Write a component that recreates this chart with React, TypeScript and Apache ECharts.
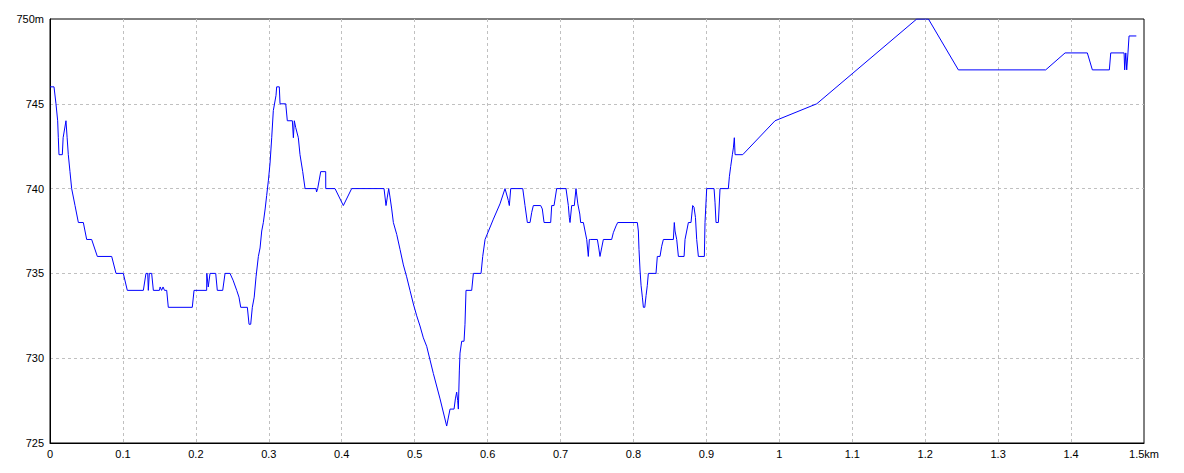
import React, { useEffect, useRef } from "react";
import * as echarts from "echarts";

// distance along route (km)
const distances: number[] = [
  0.0, 0.0055, 0.0082, 0.0105, 0.0114, 0.0123, 0.0169, 0.018, 0.0219, 0.0235,
  0.0251, 0.0274, 0.0297, 0.0343, 0.0389, 0.0457, 0.0503, 0.0571, 0.0649, 0.0846,
  0.0905, 0.1005, 0.106, 0.128, 0.1316, 0.134, 0.1348, 0.1362, 0.1394, 0.1417,
  0.15, 0.151, 0.153, 0.155, 0.157, 0.16, 0.1622, 0.1951, 0.1975, 0.2148,
  0.215, 0.217, 0.2194, 0.2272, 0.2294, 0.2368, 0.24, 0.2468, 0.251, 0.256,
  0.2591, 0.2615, 0.2706, 0.2729, 0.2752, 0.2774, 0.28, 0.2825, 0.2857, 0.288,
  0.2903, 0.2925, 0.295, 0.2971, 0.2995, 0.3017, 0.304, 0.3062, 0.3099, 0.3108,
  0.3144, 0.3154, 0.3232, 0.3254, 0.3323, 0.3337, 0.335, 0.3369, 0.3405, 0.3428,
  0.3465, 0.3497, 0.3647, 0.3655, 0.367, 0.3712, 0.378, 0.3781, 0.3908, 0.4022,
  0.4136, 0.458, 0.4607, 0.4625, 0.4644, 0.4662, 0.4685, 0.4708, 0.4754, 0.48,
  0.4845, 0.489, 0.4936, 0.4982, 0.5028, 0.5073, 0.5119, 0.5165, 0.5256, 0.5348,
  0.5439, 0.5485, 0.554, 0.5558, 0.5576, 0.559, 0.5599, 0.5613, 0.5622, 0.5645,
  0.5677, 0.569, 0.5704, 0.5782, 0.5805, 0.591, 0.5933, 0.5965, 0.6079, 0.617,
  0.6239, 0.6284, 0.6298, 0.6317, 0.6482, 0.6513, 0.6545, 0.6582, 0.6605, 0.6627,
  0.6705, 0.6728, 0.675, 0.6774, 0.6865, 0.6879, 0.6911, 0.6947, 0.7075, 0.7107,
  0.712, 0.713, 0.7153, 0.7189, 0.7212, 0.7237, 0.7264, 0.7276, 0.7313, 0.7336,
  0.7359, 0.7381, 0.7395, 0.7414, 0.7505, 0.7524, 0.7541, 0.7564, 0.7587, 0.7701,
  0.7724, 0.7761, 0.7784, 0.8053, 0.8067, 0.8076, 0.809, 0.8104, 0.8122, 0.8136,
  0.8155, 0.8173, 0.819, 0.8204, 0.8309, 0.8327, 0.8364, 0.8387, 0.841, 0.8547,
  0.856, 0.857, 0.8593, 0.8616, 0.8694, 0.8707, 0.873, 0.8753, 0.8789, 0.8812,
  0.883, 0.885, 0.8867, 0.889, 0.8972, 0.8981, 0.9004, 0.9105, 0.9118, 0.9132,
  0.9164, 0.9187, 0.9301, 0.9315, 0.9333, 0.9356, 0.937, 0.9383, 0.9393, 0.9498,
  0.9941, 1.0513, 1.1884, 1.2044, 1.2455, 1.3652, 1.3918, 1.4223, 1.4292, 1.4525,
  1.4544, 1.4727, 1.4735, 1.475, 1.4763, 1.478, 1.4795, 1.4895,
];

// elevation (m)
const elevations: number[] = [
  746, 746, 745, 744, 743, 742, 742, 743, 744, 743,
  742, 741, 740, 739, 738, 738, 737, 737, 736, 736,
  735, 735, 734, 734, 735, 735, 734, 735, 735, 734,
  734, 734.2, 734, 734.2, 734, 734, 733, 733, 734, 734,
  735, 734.2, 735, 735, 734, 734, 735, 735, 734.6, 734,
  733.6, 733, 733, 732, 732, 733, 733.6, 734.8, 736, 736.5,
  737.5, 738, 738.8, 739.6, 740.5, 741.5, 743, 744.6, 745.5, 746,
  746, 745, 745, 744, 744, 743, 744, 743.6, 743, 742,
  741, 740, 740, 739.8, 740, 741, 741, 740, 740, 739,
  740, 740, 739, 739.5, 740, 739.5, 738.8, 738, 737.3, 736.4,
  735.5, 734.8, 734, 733.2, 732.5, 731.9, 731.2, 730.7, 729.1, 727.6,
  726, 727, 727, 727.6, 728, 727.5, 727, 729.3, 730.3, 731,
  731, 732, 734, 734, 735, 735, 736, 737, 738.2, 739.1,
  740, 739.3, 739, 740, 740, 739, 738, 738, 738.6, 739,
  739, 739, 738.8, 738, 738, 739, 739, 740, 740, 739,
  738.3, 738, 739, 739, 740, 739.1, 738.5, 738, 738, 737.5,
  737, 736, 737, 737, 737, 736.5, 736, 736.5, 737, 737,
  737.4, 737.8, 738, 738, 737.5, 736.4, 735.2, 734.3, 733.6, 733,
  733, 733.7, 734.3, 735, 735, 736, 736, 736.6, 737, 737,
  738, 737.5, 737, 736, 736, 737, 737.5, 738, 738, 739,
  738.9, 738.3, 737, 736, 736, 738, 740, 740, 739.2, 738,
  738, 740, 740, 740.7, 741.3, 742, 742.4, 743, 742, 742,
  744, 745, 750, 750, 747, 747, 748, 748, 747, 747,
  748, 748, 747, 748, 747, 748, 749, 749,
];

const xTicks = { min: 0, max: 1.5, interval: 0.1 };
const yTicks = { min: 725, max: 750, interval: 5 };

export default function App() {
  const ref = useRef<HTMLDivElement>(null);
  useEffect(() => {
    if (!ref.current) return;
    const chart = echarts.init(ref.current, undefined, { renderer: "svg" });
    const data = distances.map((d, i) => [d, elevations[i]]);
    const font = "Liberation Sans, Arial, sans-serif";
    chart.setOption({
      animation: false,
      backgroundColor: "#ffffff",
      grid: {
        left: 50,
        right: 40,
        top: 19,
        bottom: 30,
        show: true,
        borderColor: "#000000",
        borderWidth: 1,
        backgroundColor: "transparent",
      },
      xAxis: {
        type: "value",
        min: xTicks.min,
        max: xTicks.max,
        interval: xTicks.interval,
        axisLine: { show: true, lineStyle: { color: "#000000", width: 1 } },
        axisTick: { show: false },
        axisLabel: {
          color: "#000000",
          fontSize: 11,
          fontFamily: font,
          margin: 5,
          formatter: (v: number) => {
            const r = parseFloat(v.toFixed(1));
            return r === xTicks.max ? r + "km" : String(r);
          },
        },
        splitLine: {
          show: true,
          showMinLine: false,
          showMaxLine: false,
          lineStyle: { color: "#c0c0c0", type: [3, 3], width: 1 },
        },
      },
      yAxis: {
        type: "value",
        min: yTicks.min,
        max: yTicks.max,
        interval: yTicks.interval,
        axisLine: { show: true, lineStyle: { color: "#000000", width: 1 } },
        axisTick: { show: false },
        axisLabel: {
          color: "#000000",
          fontSize: 11,
          fontFamily: font,
          margin: 6,
          formatter: (v: number) => (v === yTicks.max ? v + "m" : String(v)),
        },
        splitLine: {
          show: true,
          showMinLine: false,
          showMaxLine: false,
          lineStyle: { color: "#c0c0c0", type: [3, 3], width: 1 },
        },
      },
      series: [
        {
          type: "line",
          data,
          showSymbol: false,
          symbol: "none",
          lineStyle: { color: "#0000ff", width: 1 },
          itemStyle: { color: "#0000ff" },
        },
      ],
    });
    return () => chart.dispose();
  }, []);
  return (
    <div
      ref={ref}
      style={{ position: "fixed", left: 0, top: 0, width: 1184, height: 473 }}
    />
  );
}
